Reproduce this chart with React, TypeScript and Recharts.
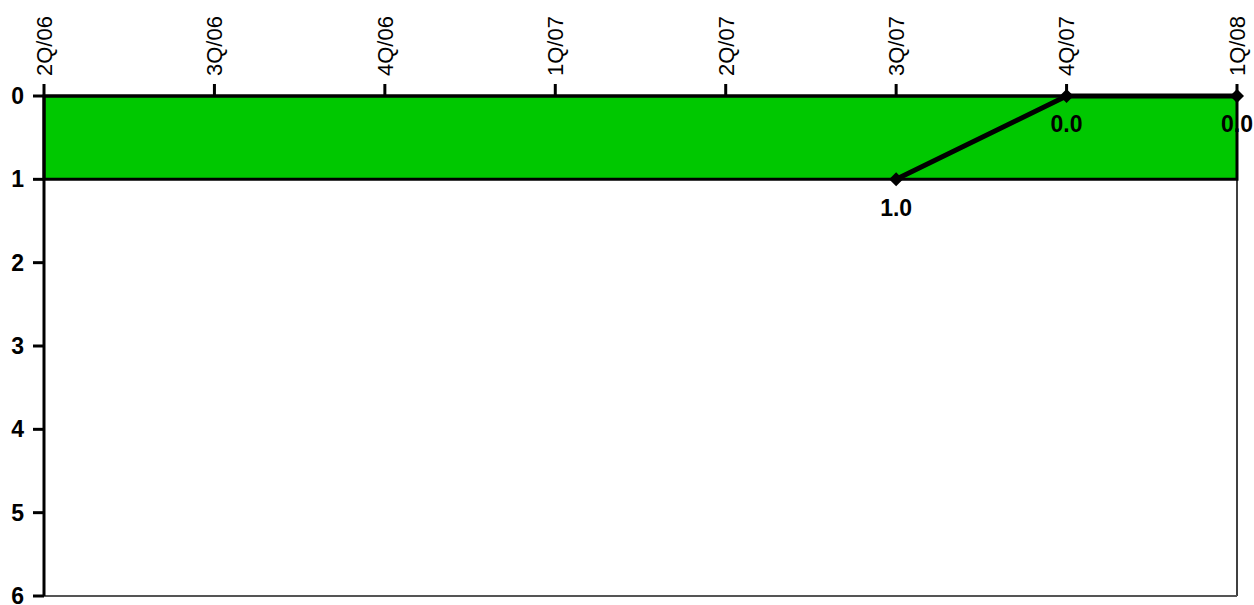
import { LineChart, Line, XAxis, YAxis, ReferenceArea, ReferenceLine, LabelList } from 'recharts';

const quarters = ['2Q/06', '3Q/06', '4Q/06', '1Q/07', '2Q/07', '3Q/07', '4Q/07', '1Q/08'];
const scores: (number | null)[] = [null, null, null, null, null, 1, 0, 0];
const yTicks = [0, 1, 2, 3, 4, 5, 6];
const bandFrom = 0;
const bandTo = 1;

const data = quarters.map((q, i) => ({ quarter: q, score: scores[i] }));

const FONT = '"Liberation Sans", Arial, sans-serif';

const QuarterTick = (props: any) => {
    const { x, y, payload } = props;
    return (
        <text
            x={x}
            y={y}
            transform={`rotate(-90, ${x}, ${y})`}
            textAnchor="start"
            dy="0.36em"
            fontFamily={FONT}
            fontSize={22}
            fill="#000"
        >
            {payload.value}
        </text>
    );
};

const Diamond = (props: any) => {
    const { cx, cy, value } = props;
    if (value == null || cx == null || cy == null) return <g />;
    const s = 7;
    return <polygon points={`${cx},${cy - s} ${cx + s},${cy} ${cx},${cy + s} ${cx - s},${cy}`} fill="#000" />;
};

const App = () => {
    return (
        <div style={{ position: 'absolute', left: 0, top: 0, background: '#fff' }}>
            <LineChart width={1254} height={605} data={data} margin={{ top: 0, right: 17, bottom: 9, left: 0 }}>
                <ReferenceArea
                    y1={bandFrom}
                    y2={bandTo}
                    fill="#00c800"
                    fillOpacity={1}
                    stroke="#000"
                    strokeWidth={3}
                />
                <ReferenceLine x="1Q/08" stroke="#000" strokeWidth={1.5} />
                <ReferenceLine y={6} stroke="#555" strokeWidth={2} />
                <XAxis
                    dataKey="quarter"
                    orientation="top"
                    height={96}
                    padding={{ left: 0, right: 0 }}
                    interval={0}
                    tickSize={12}
                    tickMargin={8}
                    tick={<QuarterTick />}
                    axisLine={{ stroke: '#000', strokeWidth: 3 }}
                    tickLine={{ stroke: '#000', strokeWidth: 3 }}
                />
                <YAxis
                    reversed
                    domain={[0, 6]}
                    ticks={yTicks}
                    width={44}
                    interval={0}
                    tickSize={11}
                    tickMargin={9}
                    axisLine={{ stroke: '#000', strokeWidth: 3 }}
                    tickLine={{ stroke: '#000', strokeWidth: 3 }}
                    tick={{ fill: '#000', fontSize: 23, fontWeight: 'bold', fontFamily: FONT }}
                />
                <Line
                    type="linear"
                    dataKey="score"
                    stroke="#000"
                    strokeWidth={5}
                    dot={<Diamond />}
                    activeDot={false}
                    isAnimationActive={false}
                >
                    <LabelList
                        dataKey="score"
                        position="bottom"
                        offset={20}
                        formatter={(v: any) => (v == null ? '' : Number(v).toFixed(1))}
                        style={{ fill: '#000', fontSize: 23, fontWeight: 'bold', fontFamily: FONT }}
                    />
                </Line>
            </LineChart>
        </div>
    );
};

export default App;
